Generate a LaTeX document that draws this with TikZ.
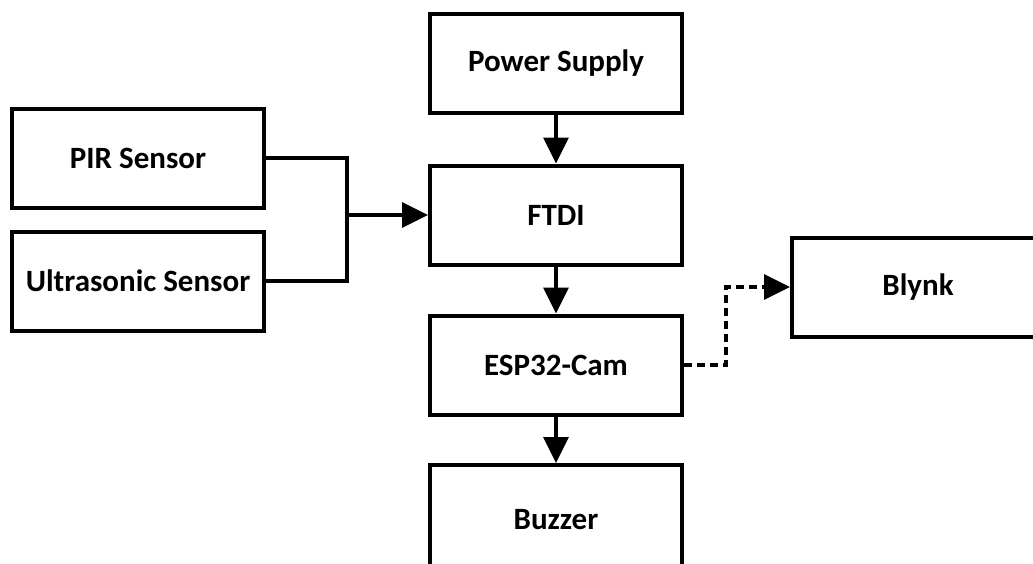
\documentclass[tikz,border=0pt]{standalone}
\usepackage{fontspec}
\setmainfont{Carlito}
\usetikzlibrary{arrows.meta}
\tikzset{
  every picture/.style={line join=miter, >={Triangle[length=26pt,width=25pt]}},
  block/.style={draw,line width=4pt,minimum width=252pt,minimum height=99pt,inner sep=0pt,
    font=\fontsize{31}{36}\selectfont\bfseries},
  link/.style={line width=3.5pt},
}
\begin{document}
\begin{tikzpicture}[x=1pt,y=-1pt]
\clip (0,0) rectangle (1033,563);
\node[block] (power) at (556,63) {Power Supply};
\node[block] (ftdi) at (556,215) {FTDI};
\node[block] (esp) at (556,365) {ESP32-Cam};
\node[block,minimum height=110pt] (buzzer) at (556,520) {Buzzer};
\node[block] (pir) at (138,158) {PIR Sensor};
\node[block] (ultra) at (138,281) {Ultrasonic Sensor};
\node[block] (blynk) at (918,287) {Blynk};
\draw[link,->] (power) -- (ftdi);
\draw[link,->] (ftdi) -- (esp);
\draw[link,->] (esp) -- (buzzer);
\coordinate (join) at (347,215);
\draw[link] (pir.east) -| (join);
\draw[link] (ultra.east) -| (join);
\draw[link,->] (join) -- (ftdi.west);
\draw[link,line width=3.2pt,dash pattern=on 8pt off 5pt,->] (esp.east) -- ++(42,0) |- (blynk.west);
\end{tikzpicture}
\end{document}
